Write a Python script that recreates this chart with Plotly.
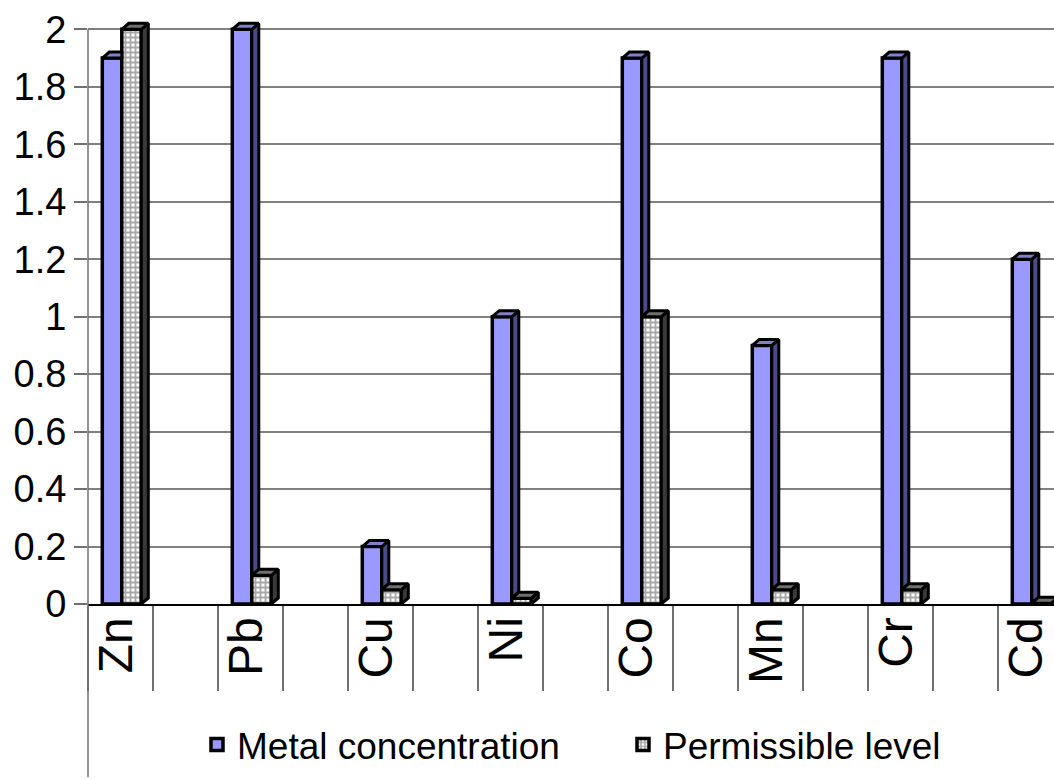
import plotly.graph_objects as go

# Heavy-metal concentrations vs. permissible levels
metals = ["Zn", "Pb", "Cu", "Ni", "Co", "Mn", "Cr", "Cd"]
metal_conc = [1.9, 2.0, 0.2, 1.0, 1.9, 0.9, 1.9, 1.2]
permissible = [2.0, 0.1, 0.05, 0.02, 1.0, 0.05, 0.05, 0.003]
y_ticks = [0, 0.2, 0.4, 0.6, 0.8, 1, 1.2, 1.4, 1.6, 1.8, 2]
y_tick_text = ["0", "0.2", "0.4", "0.6", "0.8", "1", "1.2", "1.4", "1.6", "1.8", "2"]

# each metal sits in every other category slot
xpos = [2 * i for i in range(len(metals))]

W, H = 1054, 779
ML, MR, MB = 88, 0, 175
TOP_PX = 29            # pixel row of the value 2
YMAX = 2.05            # headroom so the extruded tops are not clipped
PX_PER_Y = (H - MB - TOP_PX) / 2.0
MT = TOP_PX - (YMAX - 2.0) * PX_PER_Y
PLOT_H = H - MT - MB
XMIN = -0.5
PX_PER_X = 65.0
XMAX = XMIN + (W - ML - MR) / PX_PER_X

BAR_W = 0.30
OFF_A = -0.28          # metal bar offset from slot centre
OFF_B = OFF_A + BAR_W  # permissible bar offset
DX = 7 / PX_PER_X      # depth of the extruded faces
DY = 6 / PX_PER_Y

BLUE = "#9999ff"
BLUE_SIDE = "#4b4b8c"
BLUE_TOP = "#8080cc"

fig = go.Figure()

fig.add_trace(go.Bar(
    x=xpos, y=metal_conc, width=BAR_W, offset=OFF_A,
    name="Metal concentration", legend="legend",
    marker=dict(color=BLUE, line=dict(color="black", width=3.5)),
    cliponaxis=False,
))
fig.add_trace(go.Bar(
    x=xpos, y=permissible, width=BAR_W, offset=OFF_B,
    name="Permissible level", legend="legend2",
    marker=dict(color="white", line=dict(color="black", width=3.5),
                pattern=dict(shape="+", fgcolor="#505050", bgcolor="white",
                             size=5, solidity=0.6)),
    cliponaxis=False,
))


def faces(x0, x1, lo, hi):
    """Side and top faces of an extruded bar, as polygon lists."""
    side_x, side_y = [], []
    if hi > lo:
        side_x += [x1, x1 + DX, x1 + DX, x1, x1, None]
        side_y += [lo, lo + DY, hi + DY, hi, lo, None]
    top_x = [x0, x0 + DX, x1 + DX, x1, x0, None]
    top_y = [hi, hi + DY, hi + DY, hi, hi, None]
    return side_x, side_y, top_x, top_y


bs_x, bs_y, bt_x, bt_y = [], [], [], []
ps_x, ps_y, pt_x, pt_y = [], [], [], []
for c, v, p in zip(xpos, metal_conc, permissible):
    a0, a1 = c + OFF_A, c + OFF_A + BAR_W
    b0, b1 = c + OFF_B, c + OFF_B + BAR_W
    if v > p:
        # metal bar side only shows above the neighbouring bar
        sx, sy, tx, ty = faces(a0, a1, p, v)
    else:
        sx, sy = [], []
        tx = [a0, a0 + DX, a1, a1, a0, None]
        ty = [v, v + DY, v + DY, v, v, None]
    bs_x += sx; bs_y += sy; bt_x += tx; bt_y += ty
    sx, sy, tx, ty = faces(b0, b1, 0, p)
    ps_x += sx; ps_y += sy; pt_x += tx; pt_y += ty

for xs, ys, col in [(bs_x, bs_y, BLUE_SIDE), (bt_x, bt_y, BLUE_TOP),
                    (ps_x, ps_y, "#3a3a3a"), (pt_x, pt_y, "#707070")]:
    fig.add_trace(go.Scatter(
        x=xs, y=ys, mode="lines", fill="toself", fillcolor=col,
        line=dict(color="black", width=3), showlegend=False,
        hoverinfo="skip",
    ))

top_frac = 2.0 / YMAX
shapes = [
    # value axis line running down through the label and legend area
    dict(type="line", xref="paper", yref="paper", x0=0, x1=0,
         y0=top_frac, y1=-(MB - 2) / PLOT_H,
         line=dict(color="#707070", width=1.5)),
]

legend_common = dict(orientation="h", xanchor="left", yanchor="middle",
                     y=-(745 - (H - MB)) / PLOT_H, font=dict(size=37),
                     bgcolor="rgba(0,0,0,0)")

fig.update_layout(
    width=W, height=H,
    margin=dict(l=ML, r=MR, t=MT, b=MB, pad=0, autoexpand=False),
    paper_bgcolor="white", plot_bgcolor="white",
    font=dict(family="Liberation Sans, Arial, sans-serif", color="black"),
    barmode="overlay",
    showlegend=True,
    legend=dict(x=(197 - ML) / (W - ML - MR), **legend_common),
    legend2=dict(x=(623 - ML) / (W - ML - MR), **legend_common),
    xaxis=dict(
        range=[XMIN, XMAX], tickmode="array", tickvals=xpos, ticktext=metals,
        tickangle=-90, tickfont=dict(size=48), ticks="",
        ticklabelstandoff=-8, ticklabelshift=-4, ticklabeloverflow="allow",
        showgrid=False, zeroline=False,
        showline=True, linecolor="black", linewidth=2,
        minor=dict(tick0=0.5, dtick=1, ticks="outside", ticklen=85,
                   tickcolor="#707070", tickwidth=1.5, showgrid=False),
    ),
    yaxis=dict(
        range=[0, YMAX], tickmode="array", tickvals=y_ticks, ticktext=y_tick_text,
        tickfont=dict(size=38), ticks="outside", ticklen=13,
        tickcolor="#707070", tickwidth=1.5,
        showgrid=True, gridcolor="#808080", gridwidth=2,
        zeroline=False, showline=False,
    ),
    shapes=shapes,
)

fig.write_html("out.html")
